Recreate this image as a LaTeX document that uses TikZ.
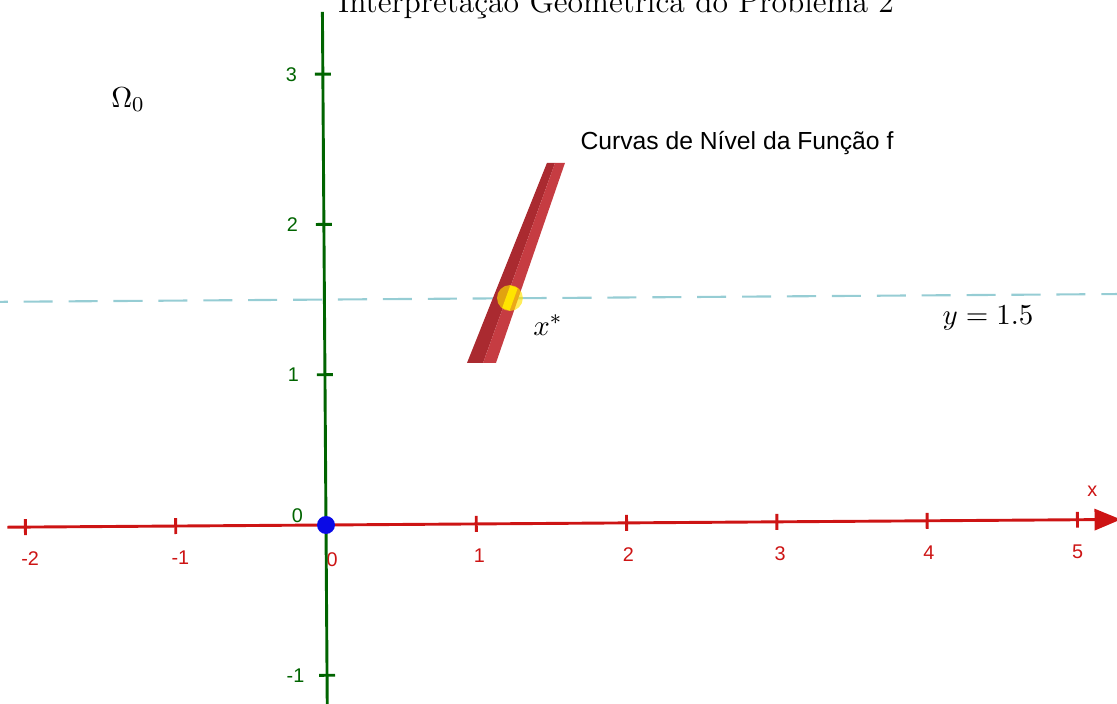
\documentclass[tikz,border=0pt]{standalone}
\usepackage{fontspec}
\newfontfamily\ggbfont{Liberation Sans}
\usetikzlibrary{arrows.meta}

\begin{document}
\begin{tikzpicture}[x=2cm,y=2cm]
        % Define tick and label properties
        \def\tick{0.053}
        \def\xlaby{-0.21}
        \def\ylabx{-0.21}

        % Axis colors (GeoGebra red/green) and the other objects
        \definecolor{xaxis}{RGB}{205,20,20}
        \definecolor{yaxis}{RGB}{0,100,0}
        \definecolor{curvelight}{RGB}{198,60,66}
        \definecolor{curvedark}{RGB}{170,42,48}
        \definecolor{constraint}{RGB}{150,205,212}
        \definecolor{pointblue}{RGB}{10,10,230}
        \definecolor{pointyellow}{RGB}{255,228,0}

        \tikzset{
            xnum/.style={font=\ggbfont\fontsize{7.5}{8}\selectfont, text=xaxis},
            ynum/.style={font=\ggbfont\fontsize{7.5}{8}\selectfont, text=yaxis},
            axisline/.style={line width=1.1pt}
        }

        % Frame of the picture
        \useasboundingbox (-2.169,-1.191) rectangle (5.263,3.493);

        % Title, cut by the top edge
        \node[anchor=base, font=\fontsize{12}{14}\selectfont] (title) at (1.93,3.41) {Interpretação Geométrica do Problema 2};

        \begin{scope}[rotate=0.4]
        % Constraint y = 1.5
        \coordinate (cleft) at (-2.3,1.5);
        \coordinate (cright) at (5.4,1.5);
        \draw[constraint, line width=0.8pt, dash pattern=on 11pt off 6pt] (cleft) -- (cright);

        % x-axis
        \coordinate (xstart) at (-2.12,0);
        \coordinate (xend) at (5.29,0);
        \draw[xaxis, axisline, -{Triangle[length=10pt,width=8pt]}] (xstart) -- (xend);
        \draw[xaxis, axisline] (-2,-\tick) -- (-2,\tick);
        \draw[xaxis, axisline] (-1,-\tick) -- (-1,\tick);
        \draw[xaxis, axisline] (1,-\tick) -- (1,\tick);
        \draw[xaxis, axisline] (2,-\tick) -- (2,\tick);
        \draw[xaxis, axisline] (3,-\tick) -- (3,\tick);
        \draw[xaxis, axisline] (4,-\tick) -- (4,\tick);
        \draw[xaxis, axisline] (5,-\tick) -- (5,\tick);
        \node[xnum] (xm2) at (-1.97,\xlaby) {-2};
        \node[xnum] (xm1) at (-0.97,\xlaby) {-1};
        \node[xnum] (x0) at (0.04,-0.23) {0};
        \node[xnum] (x1) at (1.02,\xlaby) {1};
        \node[xnum] (x2) at (2.01,\xlaby) {2};
        \node[xnum] (x3) at (3.02,\xlaby) {3};
        \node[xnum] (x4) at (4.01,\xlaby) {4};
        \node[xnum] (x5) at (5.0,\xlaby) {5};
        \node[xnum] (xname) at (5.10,0.19) {x};

        % y-axis
        \coordinate (ystart) at (0,-1.3);
        \coordinate (yend) at (0,3.415);
        \draw[yaxis, axisline] (ystart) -- (yend);
        \draw[yaxis, axisline] (-\tick,-1) -- (\tick,-1);
        \draw[yaxis, axisline] (-\tick,1) -- (\tick,1);
        \draw[yaxis, axisline] (-\tick,2) -- (\tick,2);
        \draw[yaxis, axisline] (-\tick,3) -- (\tick,3);
        \node[ynum] (ym1) at (\ylabx,-1) {-1};
        \node[ynum] (y0) at (-0.19,0.06) {0};
        \node[ynum] (y1) at (\ylabx,1) {1};
        \node[ynum] (y2) at (\ylabx,2) {2};
        \node[ynum] (y3) at (\ylabx,3) {3};
        \end{scope}

        % Level curve of f (a slanted bar, dark and light side)
        \fill[curvedark] (0.938,1.078) -- (1.045,1.078) -- (1.524,2.409) -- (1.470,2.409) -- cycle;
        \fill[curvelight] (1.045,1.078) -- (1.131,1.078) -- (1.590,2.409) -- (1.524,2.409) -- cycle;
        \node[anchor=west, inner sep=0pt, font=\ggbfont\fontsize{9.35}{11}\selectfont] (curvelab) at (1.69,2.542) {Curvas de Nível da Função f};

        % Optimal point x*
        \node[circle, fill=pointyellow, fill opacity=0.65, inner sep=0pt, minimum size=9.8pt] (xstar) at (1.224,1.510) {};
        \draw[pointyellow, line width=3pt] (1.197,1.435) -- (1.251,1.585);
        \node[font=\fontsize{11}{13}\selectfont] (xstarlab) at (1.477,1.331) {$x^*$};

        % Origin point
        \node[circle, fill=pointblue, inner sep=0pt, minimum size=6.8pt] (origin) at (0,0) {};

        % Other labels
        \node[font=\fontsize{11}{13}\selectfont] (omega) at (-1.317,2.828) {$\Omega_0$};
        \node[font=\fontsize{11}{13}\selectfont] (ylab) at (4.405,1.377) {$y = 1.5$};
    \end{tikzpicture}
\end{document}
